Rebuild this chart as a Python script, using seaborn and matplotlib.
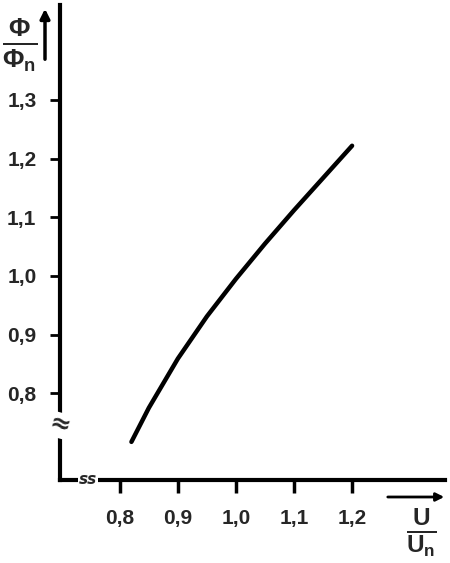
import numpy as np
import pandas as pd
import seaborn as sns
import matplotlib.pyplot as plt

# curve
u_ratio = [0.82, 0.85, 0.90, 0.95, 1.00, 1.05, 1.10, 1.15, 1.20]
phi_ratio = [0.717, 0.775, 0.859, 0.931, 0.995, 1.055, 1.112, 1.167, 1.222]
x_ticks = [0.8, 0.9, 1.0, 1.1, 1.2]
y_ticks = [0.8, 0.9, 1.0, 1.1, 1.2, 1.3]

df = pd.DataFrame({'u': u_ratio, 'phi': phi_ratio})

sns.set_style('ticks')
plt.rcParams['font.family'] = ['Liberation Sans Narrow', 'Liberation Sans', 'DejaVu Sans']
plt.rcParams['mathtext.fontset'] = 'custom'
plt.rcParams['mathtext.rm'] = 'Liberation Sans:bold'
plt.rcParams['mathtext.it'] = 'Liberation Sans:bold'
plt.rcParams['mathtext.bf'] = 'Liberation Sans:bold'

fig = plt.figure(figsize=(4.5, 5.63), dpi=100)
# axes: left spine at x=60px, bottom spine at y=480px, top ~5px, right ~445px
ax = fig.add_axes([60 / 450, (563 - 480) / 563, (445 - 60) / 450, (480 - 5) / 563])

sns.lineplot(data=df, x='u', y='phi', ax=ax, color='black', linewidth=3.2,
             solid_capstyle='round', solid_joinstyle='round')

ax.set_xlim(0.697, 1.36)
ax.set_ylim(0.652, 1.462)
ax.set_xticks(x_ticks)
ax.set_yticks(y_ticks)
ax.set_xticklabels([f'{v:.1f}'.replace('.', ',') for v in x_ticks], fontsize=15, fontweight='bold')
ax.set_yticklabels([f'{v:.1f}'.replace('.', ',') for v in y_ticks], fontsize=15, fontweight='bold')
ax.tick_params(axis='x', length=9, width=2.5, pad=12, color='black')
ax.tick_params(axis='y', length=7, width=2, pad=10, color='black')
ax.set_xlabel('')
ax.set_ylabel('')

for side in ['top', 'right']:
    ax.spines[side].set_visible(False)
for side in ['left', 'bottom']:
    ax.spines[side].set_linewidth(3)
    ax.spines[side].set_color('black')

# axis break marks
ax.text(0.697, 0.745, '≈', fontsize=18, fontweight='bold', ha='center', va='center',
        rotation=-15, family='DejaVu Sans',
        bbox=dict(facecolor='white', edgecolor='none', pad=0.5))
ax.text(0.745, 0.652, 'ss', fontsize=11, fontweight='bold', ha='center', va='center',
        style='italic', family='DejaVu Sans',
        bbox=dict(facecolor='white', edgecolor='none', pad=0.5))

# axis labels with arrows
fig.text(20 / 450, 1 - 45 / 563, r'$\frac{\Phi}{\Phi_n}$', fontsize=27,
         ha='center', va='center')
fig.add_artist(plt.Annotation('', xy=(45 / 450, 1 - 6 / 563), xytext=(45 / 450, 1 - 62 / 563),
                              xycoords='figure fraction', textcoords='figure fraction',
                              arrowprops=dict(arrowstyle='-|>', color='black', lw=2.5,
                                              mutation_scale=14)))
fig.text(421 / 450, 1 - 533 / 563, r'$\frac{U}{U_n}$', fontsize=25,
         ha='center', va='center')
fig.add_artist(plt.Annotation('', xy=(447 / 450, 1 - 497 / 563), xytext=(385 / 450, 1 - 497 / 563),
                              xycoords='figure fraction', textcoords='figure fraction',
                              arrowprops=dict(arrowstyle='-|>', color='black', lw=2,
                                              mutation_scale=12)))

fig.savefig('out.png', dpi=100, facecolor='white')
